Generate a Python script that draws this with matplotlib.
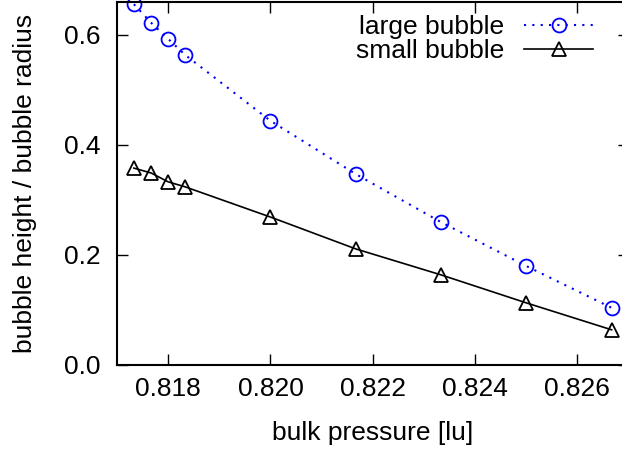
import matplotlib
matplotlib.use("Agg")
import matplotlib.pyplot as plt

plt.rcParams['font.family'] = ['Liberation Sans', 'DejaVu Sans']

pressure = [0.81733, 0.81767, 0.818, 0.81833, 0.820, 0.82167, 0.82333, 0.825, 0.82667]
large = [0.656, 0.622, 0.593, 0.564, 0.444, 0.347, 0.260, 0.180, 0.104]
small = [0.358, 0.349, 0.333, 0.324, 0.269, 0.211, 0.164, 0.113, 0.064]

xticks = [0.818, 0.820, 0.822, 0.824, 0.826]
yticks = [0.0, 0.2, 0.4, 0.6]

fig = plt.figure(figsize=(6.22, 4.49), dpi=100)
ax = fig.add_axes([117/622, 84/449, 511.5/622, 363/449])

ax.plot(pressure, large, color='#0000ff', linestyle=(0, (1, 3)), linewidth=1.5,
        marker='o', markersize=10, markerfacecolor='none', markeredgewidth=1.3,
        label='large bubble', clip_on=False)
ax.plot(pressure, small, color='black', linestyle='-', linewidth=1.2,
        marker='^', markersize=10, markerfacecolor='none', markeredgewidth=1.3,
        label='small bubble', clip_on=False)

ax.set_xlim(0.817, 0.827)
ax.set_ylim(0, 0.66)
ax.set_xticks(xticks)
ax.set_xticklabels(['%.3f' % t for t in xticks])
ax.set_yticks(yticks)
ax.set_yticklabels(['%.1f' % t for t in yticks])
ax.tick_params(direction='in', length=8, width=1, top=True, right=True, labelsize=19)
ax.tick_params(axis='x', pad=9)
ax.tick_params(axis='y', pad=12)
for s in ax.spines.values():
    s.set_linewidth(1.5)

ax.set_xlabel('bulk pressure [lu]', fontsize=19, labelpad=14)
ax.set_ylabel('bubble height / bubble radius', fontsize=19, labelpad=19)

ax.legend(loc='upper right', bbox_to_anchor=(593/622, 1 - 15/449), bbox_transform=fig.transFigure,
          frameon=False, markerfirst=False, fontsize=19, handlelength=2.6,
          handletextpad=0.75, labelspacing=0.0, borderpad=0, borderaxespad=0)

fig.savefig('out.png', dpi=100)
